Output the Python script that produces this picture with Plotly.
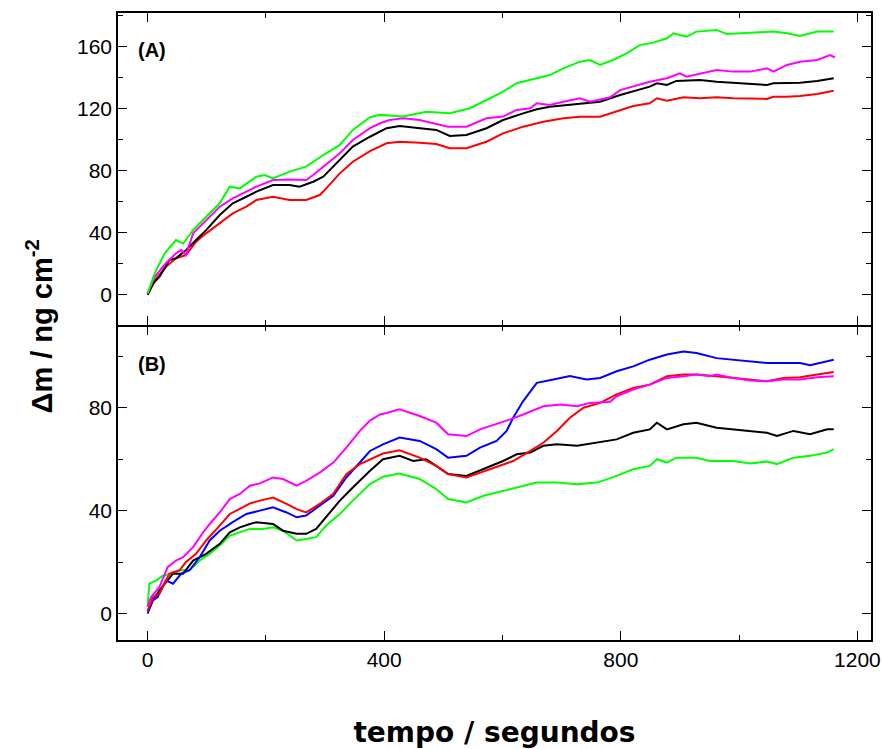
import plotly.graph_objects as go

# ---------------- Panel A data ----------------
tA_green = [0, 12, 29, 48, 60, 77, 99, 122, 139, 156, 184, 198, 212, 240, 268, 297, 325, 347, 376, 393, 432, 471, 511, 545, 573, 601, 624, 658, 680, 703, 731, 748, 765, 787, 810, 832, 855, 878, 889, 911, 928, 962, 979, 1019, 1058, 1081, 1103, 1132, 1160]
yA_green = [0.9, 13.8, 26.7, 35.3, 33, 41.7, 50.3, 59, 69.7, 68.6, 76.1, 77.2, 75, 79.4, 82.6, 90.1, 96.6, 106.3, 114.5, 116, 115, 118, 117, 120.3, 125.6, 131, 136.4, 139.6, 141.7, 146, 150.3, 151.4, 148.2, 151.4, 155.7, 161, 162.6, 165.4, 168.6, 166.5, 169.7, 170.8, 168.2, 169, 169.7, 168.6, 166.9, 169.7, 169.7]

tA_magenta = [0, 12, 31, 48, 57, 65, 77, 99, 122, 144, 156, 184, 212, 240, 268, 280, 297, 325, 347, 376, 393, 409, 432, 460, 508, 539, 573, 601, 624, 647, 658, 680, 703, 731, 748, 782, 799, 821, 849, 878, 900, 911, 934, 962, 990, 1019, 1047, 1058, 1081, 1103, 1132, 1154, 1162]
yA_magenta = [0.9, 11.6, 20.3, 26.7, 28.8, 25.6, 39.6, 48.2, 56.8, 62.2, 64.3, 69.7, 74, 74.4, 74, 77.2, 82.6, 91.2, 99.8, 107.5, 110.6, 112.7, 113.8, 112.7, 108.4, 108.4, 113.8, 114.9, 119.2, 120.3, 123.5, 122.4, 124.5, 126.7, 124.5, 127.4, 132, 134.2, 137.4, 139.6, 142.8, 140.6, 142.8, 145, 143.9, 143.9, 146, 143.9, 148.2, 150.3, 151.4, 154.6, 153]

tA_black = [0, 9, 20, 37, 48, 65, 82, 99, 122, 144, 167, 184, 212, 240, 257, 280, 297, 325, 347, 376, 393, 404, 426, 460, 488, 511, 539, 573, 601, 635, 658, 680, 714, 742, 765, 799, 821, 849, 861, 878, 894, 934, 962, 990, 1019, 1047, 1058, 1081, 1103, 1132, 1160]
yA_black = [0, 7.3, 11.6, 22.4, 23.5, 28.8, 35.3, 41.7, 51.4, 59, 63.2, 66.5, 70.8, 70.8, 69.7, 72.9, 76.1, 86.9, 95.5, 101.9, 105.2, 107.4, 108.8, 107.4, 106.3, 102.4, 103, 107.4, 112.7, 117, 119.6, 121.3, 122.4, 123.5, 124.5, 128.8, 131, 134.2, 136.4, 135.3, 137.9, 138.5, 137.4, 136.8, 135.9, 135.3, 136.4, 136.8, 136.8, 137.9, 139.6]

tA_red = [0, 15, 31, 48, 65, 82, 99, 122, 144, 167, 184, 212, 240, 268, 291, 302, 325, 347, 376, 404, 426, 460, 488, 511, 539, 573, 601, 635, 669, 703, 731, 765, 793, 821, 849, 861, 878, 906, 934, 962, 990, 1019, 1047, 1058, 1081, 1103, 1132, 1160]
yA_red = [0, 10.6, 18, 23.5, 25.6, 34.2, 39.6, 46, 52.5, 56.8, 61.1, 63.2, 61.1, 61.1, 64.3, 68.6, 78.3, 85.8, 92.6, 97.7, 98.7, 98.1, 97.2, 94.5, 94.5, 98.7, 104.1, 108.4, 111.6, 113.8, 114.8, 114.8, 118, 121.7, 123.5, 126.7, 125.2, 127.4, 126.7, 127.4, 126.7, 126.7, 126.3, 127.7, 127.7, 128.2, 129.5, 131.6]

# ---------------- Panel B data ----------------
tB_magenta = [0, 6, 20, 34, 48, 60, 77, 94, 105, 122, 139, 156, 173, 190, 212, 229, 252, 268, 291, 314, 336, 359, 376, 393, 404, 426, 460, 488, 508, 539, 562, 590, 613, 635, 669, 698, 726, 748, 782, 793, 821, 849, 878, 906, 928, 951, 962, 990, 1019, 1047, 1075, 1103, 1132, 1160]
yB_magenta = [2.6, 6.4, 10.3, 18, 20.6, 21.9, 25.8, 31.6, 34.8, 39.3, 44.5, 46.5, 49.7, 50.6, 52.9, 52.3, 49.7, 51.6, 54.8, 58.7, 64.5, 71, 75, 77.4, 78, 79.4, 76.8, 74.2, 69.7, 69, 71.6, 73.6, 75.5, 77.4, 80.6, 81.3, 80.6, 81.9, 82.3, 84.5, 87.1, 89, 91.6, 92.3, 92.9, 92.3, 92.9, 91.6, 90.6, 90.3, 91, 91, 91.9, 92.3]

tB_blue = [0, 9, 17, 31, 43, 57, 71, 88, 105, 122, 144, 167, 190, 212, 235, 252, 268, 291, 314, 336, 359, 376, 398, 426, 460, 488, 508, 539, 562, 590, 607, 618, 635, 658, 686, 714, 742, 765, 793, 821, 849, 878, 906, 928, 962, 990, 1019, 1047, 1075, 1103, 1120, 1149, 1160]
yB_blue = [0, 5.1, 6.4, 12.9, 11.6, 15.5, 16.8, 21.9, 28.4, 32.2, 35.5, 38.7, 40, 41.3, 39.3, 37.4, 38.1, 41.9, 45.8, 52.9, 58.7, 63.2, 65.8, 68.4, 67.1, 63.9, 60.6, 61.3, 64.5, 67.1, 71, 76.1, 82.6, 89.7, 91, 92.3, 91, 91.6, 94.2, 96.1, 98.7, 100.7, 101.9, 101.3, 99.3, 98.7, 98.1, 97.4, 97.4, 97.4, 96.5, 98.3, 98.7]

tB_red = [0, 9, 20, 37, 54, 65, 82, 99, 122, 139, 156, 173, 190, 212, 235, 252, 268, 291, 314, 336, 359, 376, 398, 426, 460, 488, 508, 539, 562, 590, 618, 647, 669, 692, 714, 737, 765, 793, 821, 849, 878, 906, 928, 962, 990, 1019, 1047, 1075, 1103, 1132, 1160]
yB_red = [0.9, 6.4, 7.7, 15.5, 16.8, 20, 23.2, 28.4, 34.2, 38.7, 40.7, 42.8, 43.9, 45.1, 42.6, 40.6, 39.3, 42.6, 46.5, 54.2, 58.1, 60, 62.2, 63.5, 60.6, 57.4, 54.2, 52.9, 54.8, 56.8, 59.3, 63.2, 66.4, 71, 76.1, 80, 81.9, 85.2, 87.7, 89, 92.3, 92.9, 92.9, 92.3, 91.6, 91, 90.3, 91.6, 91.9, 92.9, 93.9]

tB_black = [0, 9, 20, 43, 60, 77, 99, 122, 139, 156, 173, 184, 212, 229, 252, 268, 285, 302, 325, 347, 376, 398, 426, 449, 471, 488, 508, 539, 568, 601, 624, 647, 669, 692, 726, 760, 793, 821, 849, 861, 878, 906, 928, 962, 990, 1019, 1047, 1064, 1092, 1120, 1149, 1160]
yB_black = [0.9, 5.1, 9, 15.5, 15.5, 20.6, 23.2, 27.1, 31.6, 33.5, 34.8, 35.5, 34.8, 32.2, 31, 31, 32.9, 37.4, 43.9, 49, 55.5, 60, 61.3, 59.3, 60, 57.4, 54.2, 53.5, 56.1, 59.3, 61.9, 62.6, 65.2, 65.8, 65.2, 66.4, 67.7, 70.3, 71.6, 74.2, 71.6, 73.6, 74.2, 72.2, 71.6, 71, 70.3, 69, 71, 69.7, 71.6, 71.6]

tB_green = [0, 3, 15, 26, 43, 54, 71, 88, 105, 122, 139, 156, 173, 195, 212, 229, 252, 268, 285, 302, 325, 347, 376, 398, 426, 460, 488, 508, 539, 568, 601, 624, 658, 692, 726, 760, 793, 821, 849, 861, 878, 894, 928, 951, 990, 1019, 1047, 1064, 1092, 1120, 1149, 1160]
yB_green = [2.6, 11.6, 12.9, 14.8, 15.5, 16.8, 16.8, 20.6, 23.2, 26.4, 30.3, 31.6, 32.9, 32.9, 33.5, 32.2, 28.4, 29, 29.7, 34.2, 38.7, 43.9, 50.3, 53.2, 54.4, 52.3, 48.4, 44.5, 43.2, 45.8, 47.7, 49, 50.9, 50.9, 50.3, 50.9, 53.5, 56.1, 57.4, 60, 58.7, 60.6, 60.6, 59.3, 59.3, 58.3, 59.1, 58.1, 60.6, 61.3, 62.6, 63.9]

x_ticks = [0, 400, 800, 1200]
yA_ticks = [0, 40, 80, 120, 160]
yB_ticks = [0, 40, 80]

RED, GREEN, BLACK, MAGENTA, BLUE = "#ff0000", "#00ff00", "#000000", "#ff00ff", "#0000ff"

fig = go.Figure()

panelA = [(tA_red, yA_red, RED), (tA_black, yA_black, BLACK),
          (tA_magenta, yA_magenta, MAGENTA), (tA_green, yA_green, GREEN)]
for t, y, c in panelA:
    fig.add_trace(go.Scatter(x=t, y=y, mode="lines", line=dict(color=c, width=2),
                             xaxis="x2", yaxis="y2", showlegend=False))

panelB = [(tB_green, yB_green, GREEN), (tB_black, yB_black, BLACK),
          (tB_blue, yB_blue, BLUE), (tB_red, yB_red, RED),
          (tB_magenta, yB_magenta, MAGENTA)]
for t, y, c in panelB:
    fig.add_trace(go.Scatter(x=t, y=y, mode="lines", line=dict(color=c, width=2),
                             xaxis="x", yaxis="y", showlegend=False))

FONT = "Liberation Sans, Arial, sans-serif"
tickfont = dict(family=FONT, size=21, color="black")
LW = 1.5
splitA = (640 - 325) / 627.0          # bottom edge of panel A
splitB = (640 - 325 - LW) / 627.0     # top edge of panel B (shared divider line)

minor_x = dict(dtick=200, tick0=0, ticks="inside", ticklen=5, tickcolor="black", tickwidth=1.3)
minor_y = dict(dtick=20, tick0=0, ticks="inside", ticklen=5, tickcolor="black", tickwidth=1.3)

common_x = dict(range=[-50, 1223], tickvals=x_ticks, ticks="inside", ticklen=9, tickwidth=1.3,
                tickcolor="black", showline=True, linecolor="black", linewidth=LW,
                mirror="ticks", showgrid=False, zeroline=False, automargin=False, minor=minor_x)
common_y = dict(ticks="inside", ticklen=9, tickwidth=1.3, tickcolor="black", showline=True,
                linecolor="black", linewidth=LW, mirror="ticks", showgrid=False, zeroline=False,
                tickfont=tickfont, automargin=False, minor=minor_y)

fig.update_layout(
    width=883, height=749,
    margin=dict(l=118, r=12, t=13, b=109, autoexpand=False),
    paper_bgcolor="white", plot_bgcolor="white",
    xaxis=dict(**common_x, anchor="y", domain=[0, 1], tickfont=tickfont,
               title=dict(text="tempo / segundos", standoff=52,
                          font=dict(family="DejaVu Sans, sans-serif", size=28, color="black", weight="bold"))),
    xaxis2=dict(**common_x, anchor="y2", domain=[0, 1], matches="x", showticklabels=False),
    yaxis=dict(**common_y, domain=[0, splitB], range=[-10.3, 111.6], tickvals=yB_ticks),
    yaxis2=dict(**common_y, domain=[splitA, 1], range=[-19.5, 181.7], tickvals=yA_ticks),
    annotations=[
        dict(text="<b>(A)</b>", xref="paper", yref="paper", x=0.024, y=0.941,
             xanchor="left", yanchor="middle", showarrow=False,
             font=dict(family=FONT, size=20, color="black")),
        dict(text="<b>(B)</b>", xref="paper", yref="paper", x=0.024, y=0.44,
             xanchor="left", yanchor="middle", showarrow=False,
             font=dict(family=FONT, size=20, color="black")),
        dict(text="<b>Δm / ng cm<sup>-2</sup></b>", xref="paper", yref="paper",
             x=-0.105, y=0.50, textangle=-90, showarrow=False,
             xanchor="center", yanchor="middle",
             font=dict(family=FONT, size=29, color="black")),
    ],
)

fig.write_html("out.html", config={"displayModeBar": False},
               post_script="document.body.style.margin='0';document.body.style.overflow='hidden';")
